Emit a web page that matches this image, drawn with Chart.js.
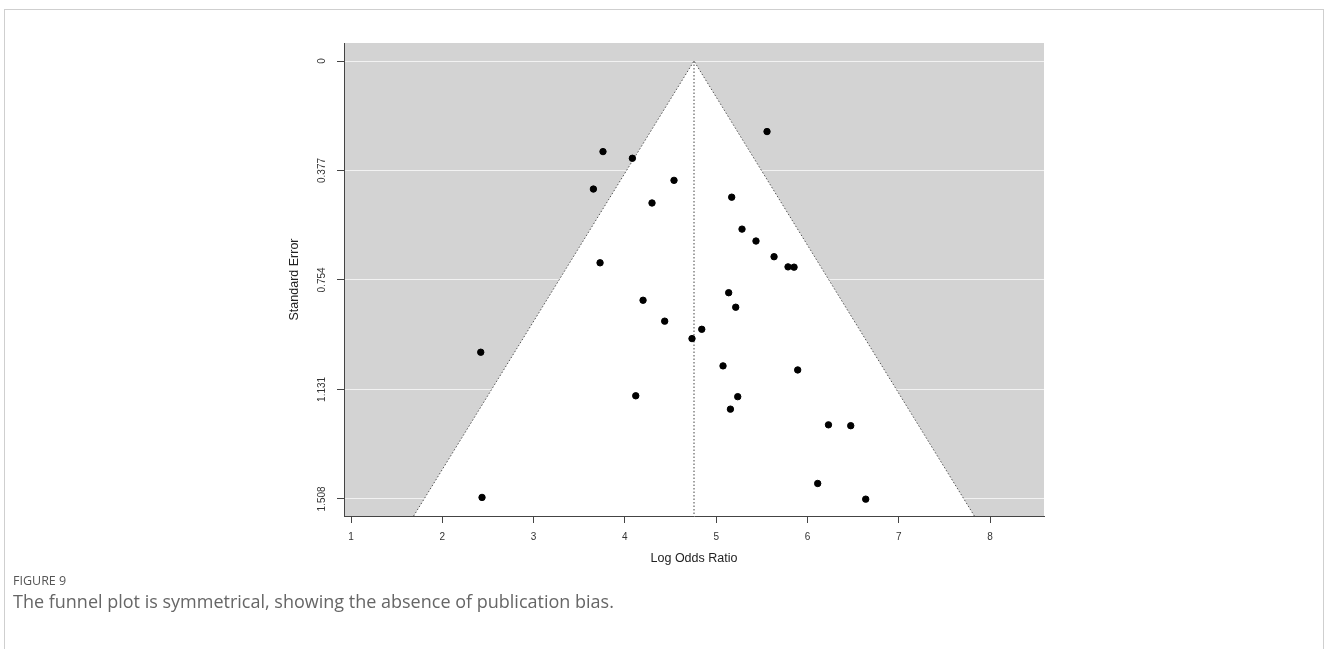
<!DOCTYPE html>
<html>
<head>
<meta charset="utf-8">
<script src="https://cdn.jsdelivr.net/npm/chart.js@4"></script>
<style>
  body { margin: 0; background: #fff; width: 1328px; height: 649px; overflow: hidden; position: relative; }
  .frame { position: absolute; left: 4px; top: 9px; width: 1318px; height: 700px; border: 1px solid #cfcfcf; }
  #funnel { position: absolute; left: 0; top: 0; }
  .fig-label { position: absolute; left: 13px; top: 572px; font-family: "Open Sans", sans-serif; font-size: 12.5px; color: #555; }
  .fig-caption { position: absolute; left: 13px; top: 589px; font-family: "Open Sans", sans-serif; font-size: 18px; color: #666; }
</style>
</head>
<body>
<div class="frame"></div>
<canvas id="funnel" width="1328" height="600"></canvas>
<div class="fig-label">FIGURE 9</div>
<div class="fig-caption">The funnel plot is symmetrical, showing the absence of publication bias.</div>

<script>
// study estimates (log odds ratio) and their standard errors
const logOdds = [5.557, 3.760, 4.082, 4.538, 3.655, 4.297, 5.170, 5.283, 5.436, 5.634,
                 5.787, 5.853, 3.728, 5.137, 4.199, 5.214, 4.436, 4.842, 4.735, 2.421,
                 5.075, 5.893, 4.119, 5.236, 5.156, 6.230, 6.474, 6.112, 2.435, 6.638];
const stdErr = [0.243, 0.312, 0.335, 0.411, 0.441, 0.489, 0.469, 0.579, 0.620, 0.674,
                0.709, 0.710, 0.695, 0.798, 0.824, 0.848, 0.896, 0.924, 0.956, 1.003,
                1.050, 1.064, 1.153, 1.156, 1.199, 1.253, 1.256, 1.455, 1.503, 1.509];

// pooled estimate and funnel limits
const pooledEstimate = 4.757;
const seMax = 1.567;
const zCrit = 1.96;

// axis ticks
const xTicks = [1, 2, 3, 4, 5, 6, 7, 8];
const yTicks = [0, 0.377, 0.754, 1.131, 1.508];
const yTickLabels = ['0', '0.377', '0.754', '1.131', '1.508'];

Chart.defaults.font.family = '"Liberation Sans", Arial, sans-serif';
Chart.defaults.font.size = 10;
Chart.defaults.color = '#333';

const points = logOdds.map((x, i) => ({ x: x, y: stdErr[i] }));
const funnelEdge = [
    { x: pooledEstimate - zCrit * seMax, y: seMax },
    { x: pooledEstimate, y: 0 },
    { x: pooledEstimate + zCrit * seMax, y: seMax }
];
const centerLine = [{ x: pooledEstimate, y: 0 }, { x: pooledEstimate, y: seMax }];

// gray plotting region behind everything
const plotBackground = {
    id: 'plotBackground',
    beforeDraw(chart) {
        const { ctx, chartArea: a } = chart;
        ctx.save();
        ctx.fillStyle = '#d3d3d3';
        ctx.fillRect(a.left, a.top, a.right - a.left, a.bottom - a.top);
        ctx.restore();
    }
};

new Chart(document.getElementById('funnel'), {
    type: 'scatter',
    data: {
        datasets: [
            {
                label: 'Studies',
                data: points,
                backgroundColor: '#000',
                borderColor: '#000',
                pointRadius: 3.2,
                order: 0
            },
            {
                label: 'Pooled',
                type: 'line',
                data: centerLine,
                borderColor: '#444',
                borderWidth: 1,
                borderDash: [1.5, 2],
                pointRadius: 0,
                fill: false,
                order: 1
            },
            {
                label: 'Funnel',
                type: 'line',
                data: funnelEdge,
                borderColor: '#555',
                borderWidth: 1,
                borderDash: [1.5, 2],
                backgroundColor: '#fff',
                pointRadius: 0,
                tension: 0,
                fill: { value: seMax },
                order: 2
            }
        ]
    },
    options: {
        responsive: false,
        animation: false,
        layout: { padding: { left: 284, top: 43, right: 284, bottom: 24 } },
        plugins: {
            legend: { display: false },
            tooltip: { enabled: false }
        },
        scales: {
            x: {
                type: 'linear',
                min: 0.923,
                max: 8.591,
                z: 1,
                afterBuildTicks: s => { s.ticks = xTicks.map(v => ({ value: v })); },
                afterFit: s => { s.height = 60; },
                grid: { drawOnChartArea: false, tickLength: 7, tickColor: '#444' },
                border: { display: true, color: '#444', width: 1 },
                ticks: { padding: 8, color: '#333', autoSkip: false, maxRotation: 0 },
                title: { display: true, text: 'Log Odds Ratio', color: '#222', font: { size: 12.5 }, padding: { top: 0, bottom: 9.5 } }
            },
            y: {
                type: 'linear',
                reverse: true,
                min: -0.062,
                max: 1.567,
                afterBuildTicks: s => { s.ticks = yTicks.map(v => ({ value: v })); },
                afterFit: s => { s.width = 60; },
                grid: { color: '#f2f2f2', lineWidth: 1, tickLength: 7, tickColor: '#444' },
                border: { display: true, color: '#444', width: 1 },
                ticks: {
                    padding: 2,
                    color: '#333',
                    autoSkip: false,
                    minRotation: 90,
                    maxRotation: 90,
                    crossAlign: 'center',
                    callback: (v, i) => yTickLabels[i]
                },
                title: { display: true, text: 'Standard Error', color: '#222', font: { size: 12.5 }, padding: { top: 3, bottom: 0 } }
            }
        }
    },
    plugins: [plotBackground]
});
</script>
</body>
</html>
